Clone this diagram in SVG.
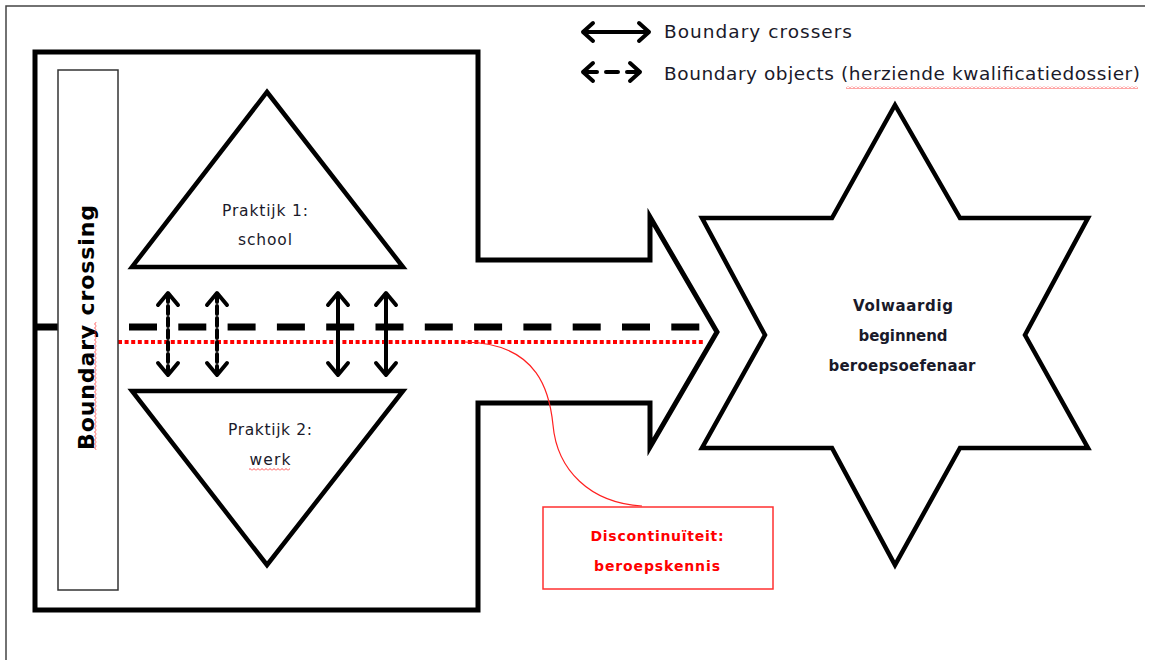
<svg xmlns="http://www.w3.org/2000/svg" width="1154" height="660" viewBox="0 0 1154 660">
<style>
  .thick{fill:none;stroke:#000;stroke-width:5;stroke-linejoin:miter}
  .shape{fill:#fff;stroke:#000;stroke-width:4.5;stroke-linejoin:miter}
  .arr{fill:none;stroke:#000;stroke-width:4;stroke-linecap:round;stroke-linejoin:round}
  .t{font-family:"DejaVu Sans","Liberation Sans",sans-serif;fill:#1a1a2a}
  .b{font-weight:bold}
  .red{fill:#ff0000}
</style>
<defs>
  <pattern id="sq" width="4" height="3" patternUnits="userSpaceOnUse">
    <path d="M0,2.5 L2,0.5 L4,2.5" fill="none" stroke="#ff2020" stroke-width="0.8"/>
  </pattern>
</defs>
<rect width="1154" height="660" fill="#fff"/>
<!-- image border -->
<path d="M6,660 V6 H1145" fill="none" stroke="#444" stroke-width="1.5"/>

<!-- legend -->
<g id="legend">
  <g class="arr">
    <path d="M583,32 H649 M593,23 L583,32 L593,41 M639,23 L649,32 L639,41"/>
    <path d="M583,72 H597 M606,72 H618 M627,72 H640 M593,63 L583,72 L593,81 M630,63 L640,72 L630,81"/>
  </g>
  <text class="t" x="664" y="38" font-size="18.5" textLength="188" lengthAdjust="spacing">Boundary crossers</text>
  <text class="t" x="664" y="80" font-size="18.5" textLength="476" lengthAdjust="spacing">Boundary objects (herziende kwalificatiedossier)</text>
  <rect x="846" y="86" width="292" height="3" fill="url(#sq)"/>
</g>

<!-- big arrow -->
<g id="context-arrow">
  <path class="thick" d="M35,52 H478 V260 H650 V217 L717,332 L650,447 V403 H478 V610 H35 Z"/>
</g>

<!-- connectors: boundary line, red discontinuity, crossers -->
<g id="connectors">
  <line x1="37" y1="327" x2="701" y2="327" stroke="#000" stroke-width="7" stroke-dasharray="28 21.3" stroke-dashoffset="6.6"/>
  <line x1="118" y1="342" x2="703" y2="342" stroke="#ff0000" stroke-width="4" stroke-dasharray="4 2.6"/>
  <path d="M465,342 C540,343 550,395 553,425 C557,470 590,503 642,506" fill="none" stroke="#ff2020" stroke-width="1.2"/>
  <g class="arr">
    <path d="M168,294 V373" stroke-dasharray="8 4"/>
    <path d="M158,305 L168,293 L178,305 M158,363 L168,375 L178,363"/>
    <path d="M217,294 V373" stroke-dasharray="8 4"/>
    <path d="M207,305 L217,293 L227,305 M207,363 L217,375 L227,363"/>
    <path d="M338,294 V373 M328,305 L338,293 L348,305 M328,363 L338,375 L348,363"/>
    <path d="M386,294 V373 M376,305 L386,293 L396,305 M376,363 L386,375 L396,363"/>
  </g>
</g>

<!-- boundary crossing box -->
<g id="boundary-crossing">
  <rect x="58" y="70" width="60" height="520" fill="#fff" stroke="#333" stroke-width="1.5"/>
  <text class="t b" transform="translate(94,327.5) rotate(-90)" x="0" y="0" font-size="22" text-anchor="middle" textLength="245" lengthAdjust="spacing" style="fill:#000">Boundary crossing</text>
  <rect transform="translate(94,450) rotate(-90)" x="0" y="0" width="128" height="3" fill="url(#sq)"/>
</g>

<!-- practice 1 -->
<g id="praktijk1">
  <path class="shape" d="M267,92 L403,267 H132 Z"/>
  <text class="t" x="265" y="216" font-size="15.5" text-anchor="middle" textLength="86" lengthAdjust="spacing">Praktijk 1:</text>
  <text class="t" x="265" y="245" font-size="15.5" text-anchor="middle" textLength="54" lengthAdjust="spacing">school</text>
</g>

<!-- practice 2 -->
<g id="praktijk2">
  <path class="shape" d="M132,391 H403 L267,565 Z"/>
  <text class="t" x="270" y="435" font-size="15.5" text-anchor="middle" textLength="84" lengthAdjust="spacing">Praktijk 2:</text>
  <text class="t" x="270" y="465" font-size="15.5" text-anchor="middle" textLength="41" lengthAdjust="spacing">werk</text>
  <rect x="249" y="468" width="41" height="3" fill="url(#sq)"/>
</g>

<!-- star -->
<g id="volwaardig">
  <path class="shape" d="M895,105 L960,218 H1088 L1025,335 L1088,448 H960 L895,565 L832,448 H702 L765,335 L702,218 H832 Z"/>
  <text class="t b" x="903" y="311" font-size="15" text-anchor="middle" textLength="100" lengthAdjust="spacing">Volwaardig</text>
  <text class="t b" x="903" y="341" font-size="15" text-anchor="middle" textLength="89" lengthAdjust="spacing">beginnend</text>
  <text class="t b" x="902" y="371" font-size="15" text-anchor="middle" textLength="147" lengthAdjust="spacing">beroepsoefenaar</text>
</g>

<!-- discontinuity callout -->
<g id="discontinuiteit">
  <rect x="543" y="507" width="230" height="82" fill="#fff" stroke="#ff3030" stroke-width="1.5"/>
  <text class="t b red" x="657" y="541" font-size="14" text-anchor="middle" textLength="133" lengthAdjust="spacing">Discontinuïteit:</text>
  <text class="t b red" x="657" y="571" font-size="14" text-anchor="middle" textLength="126" lengthAdjust="spacing">beroepskennis</text>
</g>
</svg>
